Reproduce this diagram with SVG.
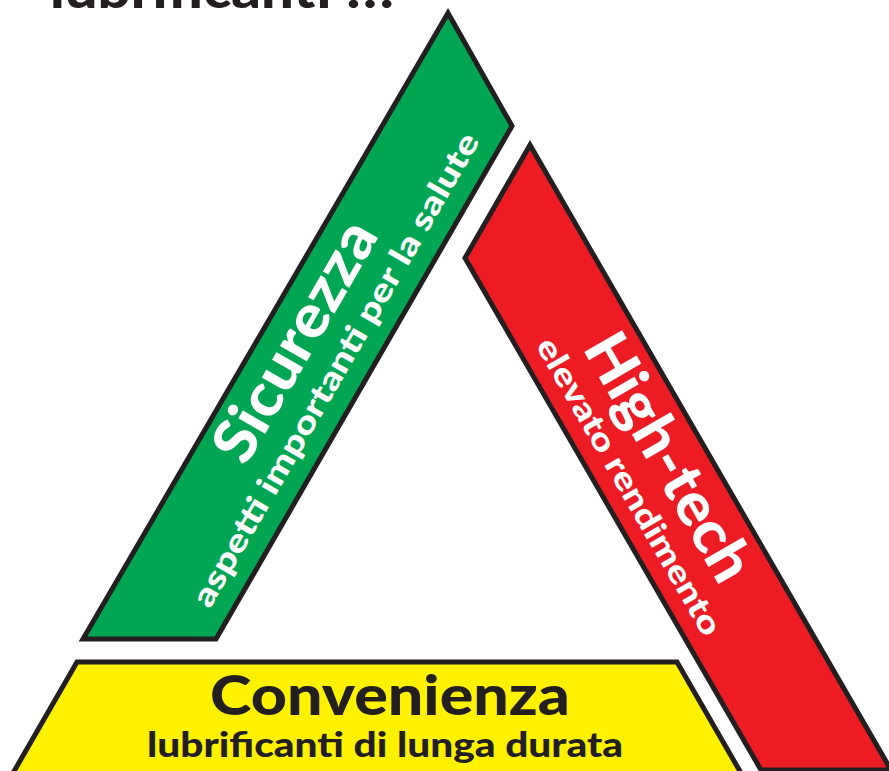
<svg xmlns="http://www.w3.org/2000/svg" width="889" height="771" viewBox="0 0 889 771">
  <style>
    .band { stroke: #231f20; stroke-width: 5; stroke-linejoin: miter; }
    .t { font-family: Lato, "DejaVu Sans", sans-serif; font-weight: 900; }
    .w { fill: #ffffff; }
    .k { fill: #231f20; }
  </style>
  <rect width="889" height="771" fill="#ffffff"/>
  <g id="title">
    <text class="t k" x="50" y="8" font-size="52" textLength="345" lengthAdjust="spacingAndGlyphs">lubrificanti !!!</text>
  </g>
  <g id="sicurezza">
    <polygon class="band" fill="#00a651" points="448,13 512,126 216,639 83,639"/>
    <text class="t w" font-size="60" transform="translate(245.6,467.3) rotate(-60)" textLength="268" lengthAdjust="spacingAndGlyphs">Sicurezza</text>
    <text class="t w" font-size="32" transform="translate(209.8,609.4) rotate(-60)" textLength="541" lengthAdjust="spacingAndGlyphs">aspetti importanti per la salute</text>
  </g>
  <g id="hightech">
    <polygon class="band" fill="#ed1c24" points="530,145 891,770 761,770 465,258"/>
    <text class="t w" font-size="60" transform="translate(582,348) rotate(60)" textLength="276" lengthAdjust="spacingAndGlyphs">High-tech</text>
    <text class="t w" font-size="32" transform="translate(535.2,345.6) rotate(60)" textLength="338" lengthAdjust="spacingAndGlyphs">elevato rendimento</text>
  </g>
  <g id="convenienza">
    <polygon class="band" fill="#fff200" points="77,662 677,662 745,780 9,780"/>
    <text class="t k" x="390" y="715" font-size="55" text-anchor="middle" textLength="360" lengthAdjust="spacingAndGlyphs">Convenienza</text>
    <text class="t k" x="385" y="757" font-size="34" text-anchor="middle" textLength="476" lengthAdjust="spacingAndGlyphs">lubrificanti di lunga durata</text>
  </g>
  <g id="connectors"/>
</svg>
